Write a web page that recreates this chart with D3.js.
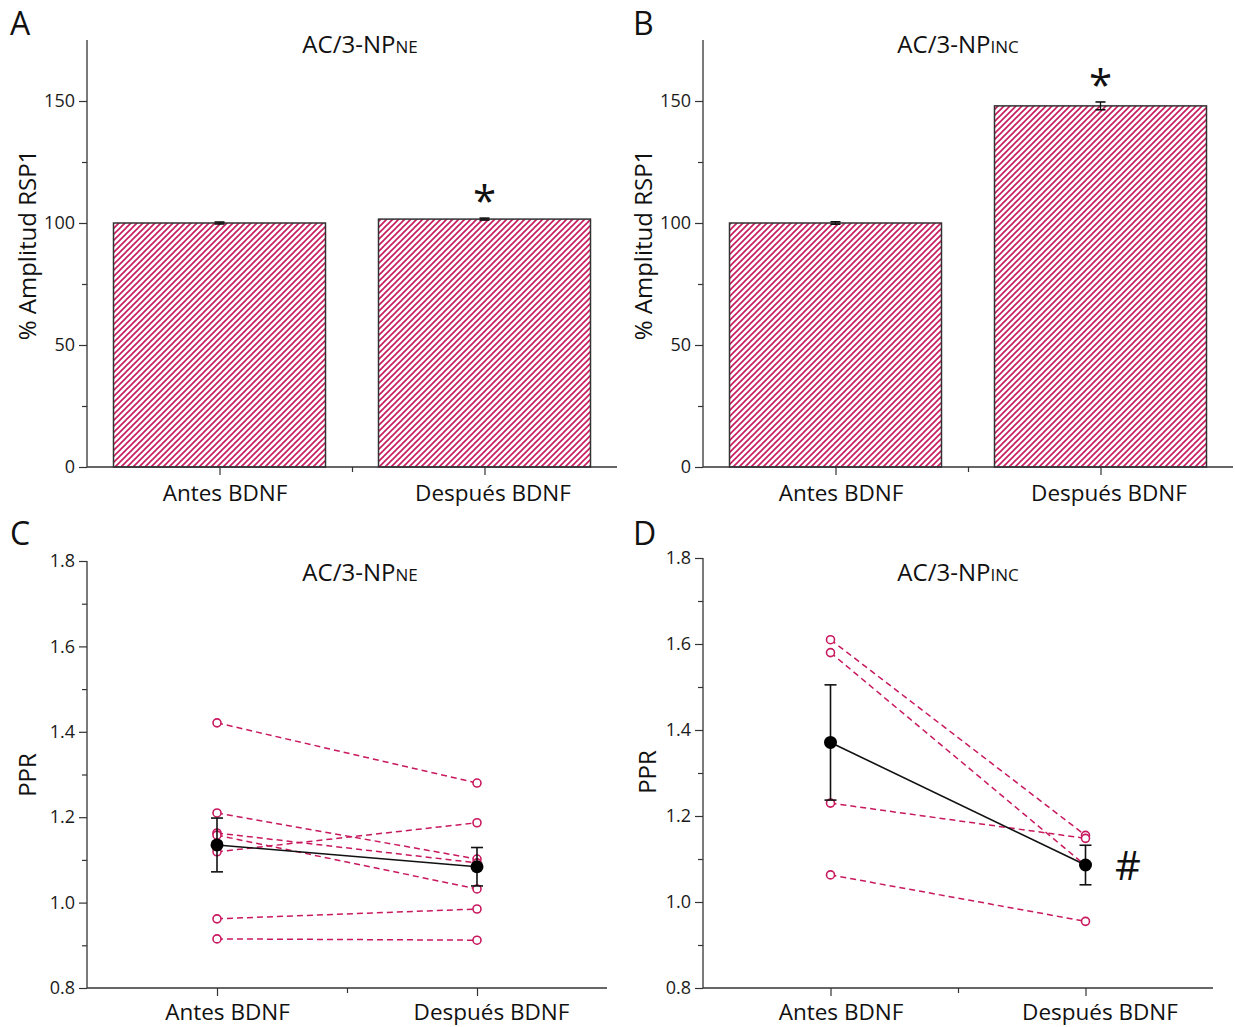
<!DOCTYPE html>
<html>
<head>
<meta charset="utf-8">
<script src="https://cdn.jsdelivr.net/npm/d3@7"></script>
<style>
  body { margin: 0; background: #fff; }
  text { font-family: "Open Sans", "Noto Sans", sans-serif; fill: #111; }
</style>
</head>
<body>
<div id="fig"></div>
<script>
// categories shared by all panels
var categories = ["Antes BDNF", "Después BDNF"];

// panel A / B : % Amplitud RSP1 (mean, sem)
var ampNE = [100, 101.6];
var ampNE_err = [0.4, 0.4];
var ampINC = [100, 148];
var ampINC_err = [0.5, 1.6];
var ampTicks = [0, 50, 100, 150];

// panel C : PPR of each cell, before / after
var pprNE = [
  [1.421, 1.280],
  [1.210, 1.102],
  [1.163, 1.093],
  [1.158, 1.032],
  [1.119, 1.187],
  [0.962, 0.985],
  [0.915, 0.912]
];
var pprNE_mean = [1.135, 1.084];
var pprNE_err = [0.063, 0.045];

// panel D
var pprINC = [
  [1.610, 1.155],
  [1.580, 1.085],
  [1.230, 1.148],
  [1.063, 0.955]
];
var pprINC_mean = [1.371, 1.086];
var pprINC_err = [0.134, 0.046];
var pprTicks = [0.8, 1.0, 1.2, 1.4, 1.6, 1.8];

var pink = "#c8195f";
var axisCol = "#333";

var svg = d3.select("#fig").append("svg")
  .attr("width", 1235)
  .attr("height", 1027);

// hatch pattern for the bars
var defs = svg.append("defs");
var pat = defs.append("pattern")
  .attr("id", "hatch")
  .attr("patternUnits", "userSpaceOnUse")
  .attr("width", 6)
  .attr("height", 6);
pat.append("rect").attr("width", 6).attr("height", 6).attr("fill", "#fff");
pat.append("path")
  .attr("d", "M0,6 L6,0 M-1,1 L1,-1 M5,7 L7,5")
  .attr("stroke", pink)
  .attr("stroke-width", 1.6);

function drawAxes(p) {
  var g = p.g;
  // y axis major
  var yAx = g.append("g")
    .attr("transform", "translate(" + p.x0 + ",0)")
    .call(d3.axisLeft(p.y).tickValues(p.yTicks).tickSize(8).tickPadding(4).tickFormat(p.fmt));
  // y axis minor
  g.append("g")
    .attr("transform", "translate(" + p.x0 + ",0)")
    .call(d3.axisLeft(p.y).tickValues(p.yMinor).tickSize(5).tickFormat(""));
  // x axis
  var xAx = g.append("g")
    .attr("transform", "translate(0," + p.y0 + ")")
    .call(d3.axisBottom(p.x).tickValues([1, 2]).tickSize(8).tickPadding(p.xPad)
      .tickFormat(function(d) { return categories[d - 1]; }));
  g.append("g")
    .attr("transform", "translate(0," + p.y0 + ")")
    .call(d3.axisBottom(p.x).tickValues([1.5]).tickSize(5).tickFormat(""));

  g.selectAll(".domain").attr("stroke", axisCol).attr("stroke-width", 1.3);
  g.selectAll(".tick line").attr("stroke", axisCol).attr("stroke-width", 1.2);
  yAx.selectAll("text").attr("font-size", 18).style("fill", "#1a1a1a");
  xAx.selectAll("text").attr("font-size", 22.5).style("fill", "#111")
    .attr("dx", function(d) { return p.labelDx[d - 1]; });
  // extend the y axis to the top of the panel
  g.selectAll(".domain").attr("d", null);
  g.append("line")
    .attr("x1", p.x0).attr("x2", p.x0)
    .attr("y1", p.y.range()[0]).attr("y2", p.yTop)
    .attr("stroke", axisCol).attr("stroke-width", 1.3);
  g.append("line")
    .attr("x1", p.x0).attr("x2", p.x.range()[1])
    .attr("y1", p.y0).attr("y2", p.y0)
    .attr("stroke", axisCol).attr("stroke-width", 1.3);

  // title with small-caps like suffix
  var t = g.append("text")
    .attr("x", p.titleX).attr("y", p.titleY)
    .attr("text-anchor", "middle")
    .attr("font-size", 24);
  t.append("tspan").text("AC/3-NP");
  t.append("tspan").attr("font-size", 17).text(p.sub);

  // panel letter
  g.append("text")
    .attr("x", p.letterX).attr("y", p.letterY)
    .attr("font-size", 32)
    .text(p.letter);

  // y title
  g.append("text")
    .attr("transform", "translate(" + p.ytX + "," + p.ytY + ") rotate(-90)")
    .attr("text-anchor", "middle")
    .attr("font-size", 24)
    .text(p.ytitle);
}

function barPanel(p, vals, errs) {
  p.x = d3.scaleLinear().domain([0.5, 2.5]).range([p.x0, p.x1]);
  p.y = d3.scaleLinear().domain([0, 175]).range([p.y0, p.y0 - 175 * 2.44]);
  p.yTop = p.y(175);
  p.yTicks = ampTicks;
  p.yMinor = [25, 75, 125];
  p.fmt = d3.format("d");
  p.xPad = 10;
  p.labelDx = [5, 8];
  p.g = svg.append("g");
  var bw = (p.x(2) - p.x(1)) * 0.8;

  p.g.selectAll("rect.bar")
    .data(vals)
    .enter().append("rect")
    .attr("class", "bar")
    .attr("x", function(d, i) { return p.x(i + 1) - bw / 2; })
    .attr("y", function(d) { return p.y(d); })
    .attr("width", bw)
    .attr("height", function(d) { return p.y0 - p.y(d); })
    .attr("fill", "url(#hatch)")
    .attr("stroke", axisCol)
    .attr("stroke-width", 1.5);

  var eb = p.g.selectAll("g.err").data(vals).enter().append("g");
  eb.append("line")
    .attr("x1", function(d, i) { return p.x(i + 1); })
    .attr("x2", function(d, i) { return p.x(i + 1); })
    .attr("y1", function(d, i) { return p.y(d + errs[i]); })
    .attr("y2", function(d, i) { return p.y(d - errs[i]); })
    .attr("stroke", "#111").attr("stroke-width", 1.3);
  eb.selectAll("line.cap")
    .data(function(d, i) { return [[i, d + errs[i]], [i, d - errs[i]]]; })
    .enter().append("line")
    .attr("x1", function(c) { return p.x(c[0] + 1) - 5; })
    .attr("x2", function(c) { return p.x(c[0] + 1) + 5; })
    .attr("y1", function(c) { return p.y(c[1]); })
    .attr("y2", function(c) { return p.y(c[1]); })
    .attr("stroke", "#111").attr("stroke-width", 1.6);

  // significance star above the second bar
  p.g.append("text")
    .attr("x", p.x(2))
    .attr("y", p.y(vals[1] + errs[1]) + p.starDy)
    .attr("text-anchor", "middle")
    .attr("font-family", "DejaVu Sans")
    .attr("font-size", 42)
    .text("*");

  drawAxes(p);
}

function pprPanel(p, cells, means, errs) {
  p.x = d3.scaleLinear().domain([0.5, 2.5]).range([p.x0, p.x1]);
  p.y = d3.scaleLinear().domain([0.8, 1.8]).range([p.y0, p.yTop]);
  p.yTicks = pprTicks;
  p.yMinor = [0.9, 1.1, 1.3, 1.5, 1.7];
  p.fmt = d3.format(".1f");
  p.xPad = 8;
  p.labelDx = [10, 14];
  p.g = svg.append("g");

  var line = d3.line()
    .x(function(d, i) { return p.x(i + 1); })
    .y(function(d) { return p.y(d); });

  p.g.selectAll("path.cell")
    .data(cells)
    .enter().append("path")
    .attr("d", line)
    .attr("fill", "none")
    .attr("stroke", pink)
    .attr("stroke-width", 1.5)
    .attr("stroke-dasharray", "6,4");

  cells.forEach(function(c) {
    p.g.selectAll(null)
      .data(c)
      .enter().append("circle")
      .attr("cx", function(d, i) { return p.x(i + 1); })
      .attr("cy", function(d) { return p.y(d); })
      .attr("r", 4)
      .attr("fill", "#fff")
      .attr("stroke", pink)
      .attr("stroke-width", 1.6);
  });

  // mean +- sem
  p.g.append("path")
    .attr("d", line(means))
    .attr("fill", "none")
    .attr("stroke", "#111")
    .attr("stroke-width", 1.6);
  means.forEach(function(m, i) {
    var cx = p.x(i + 1);
    p.g.append("line")
      .attr("x1", cx).attr("x2", cx)
      .attr("y1", p.y(m + errs[i])).attr("y2", p.y(m - errs[i]))
      .attr("stroke", "#111").attr("stroke-width", 1.6);
    [m + errs[i], m - errs[i]].forEach(function(v) {
      p.g.append("line")
        .attr("x1", cx - 6).attr("x2", cx + 6)
        .attr("y1", p.y(v)).attr("y2", p.y(v))
        .attr("stroke", "#111").attr("stroke-width", 1.6);
    });
  });
  p.g.selectAll("circle.mean")
    .data(means)
    .enter().append("circle")
    .attr("cx", function(d, i) { return p.x(i + 1); })
    .attr("cy", function(d) { return p.y(d); })
    .attr("r", 6.5)
    .attr("fill", "#000");

  drawAxes(p);
}

barPanel({x0: 87, x1: 617, y0: 467, titleX: 360, titleY: 53, sub: "NE",
  letter: "A", letterX: 10, letterY: 35, ytitle: "% Amplitud RSP1", ytX: 36, ytY: 245,
  starDy: -2}, ampNE, ampNE_err);
barPanel({x0: 703, x1: 1233, y0: 467, titleX: 958, titleY: 53, sub: "INC",
  letter: "B", letterX: 633, letterY: 35, ytitle: "% Amplitud RSP1", ytX: 652, ytY: 245,
  starDy: -2}, ampINC, ampINC_err);

pprPanel({x0: 87, x1: 607, y0: 988, yTop: 561, titleX: 360, titleY: 581, sub: "NE",
  letter: "C", letterX: 10, letterY: 545, ytitle: "PPR", ytX: 36, ytY: 775}, pprNE, pprNE_mean, pprNE_err);
pprPanel({x0: 703, x1: 1213, y0: 988, yTop: 558, titleX: 958, titleY: 581, sub: "INC",
  letter: "D", letterX: 633, letterY: 545, ytitle: "PPR", ytX: 656, ytY: 772}, pprINC, pprINC_mean, pprINC_err);

// significance mark in panel D
svg.append("text")
  .attr("x", 1128)
  .attr("y", 880)
  .attr("text-anchor", "middle")
  .attr("font-size", 40)
  .text("#");
</script>
</body>
</html>
